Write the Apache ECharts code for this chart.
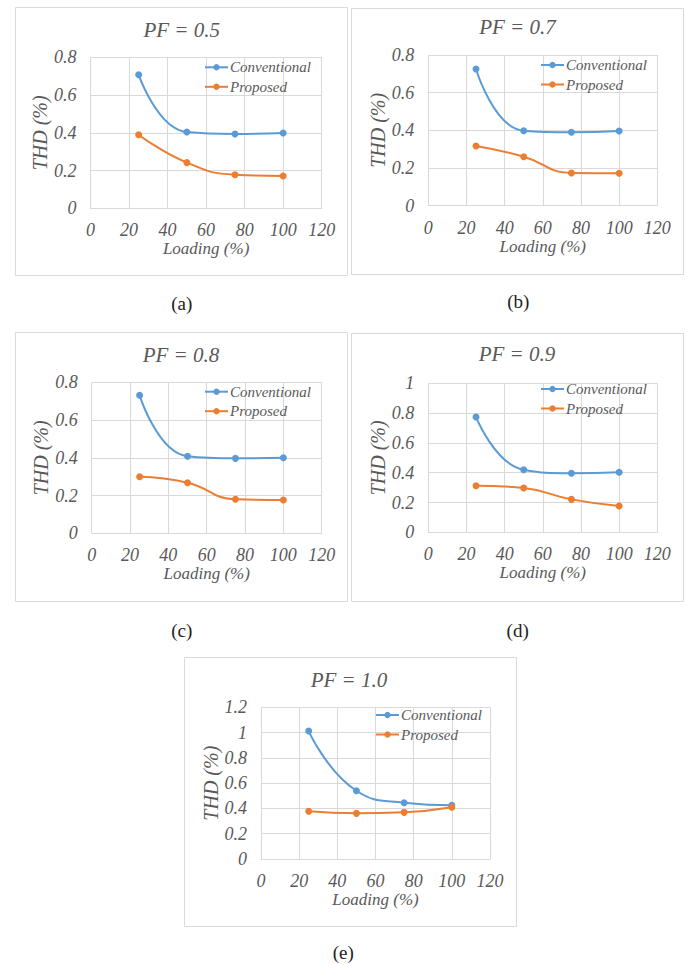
<!DOCTYPE html>
<html>
<head>
<meta charset="utf-8">
<script src="https://cdn.jsdelivr.net/npm/echarts@6/dist/echarts.min.js"></script>
<style>
html,body{margin:0;padding:0;background:#fff;}
#c{width:687px;height:965px;}
</style>
</head>
<body>
<div id="c"></div>
<script>
// ---- data ----
var loading = [25, 50, 75, 100];
var seriesNames = ['Conventional', 'Proposed'];
var panelTitles = ['PF = 0.5', 'PF = 0.7', 'PF = 0.8', 'PF = 0.9', 'PF = 1.0'];
var captions = ['(a)', '(b)', '(c)', '(d)', '(e)'];
var conv05 = [0.708, 0.404, 0.394, 0.399];
var prop05 = [0.390, 0.242, 0.178, 0.171];
var conv07 = [0.726, 0.398, 0.390, 0.397];
var prop07 = [0.317, 0.260, 0.174, 0.172];
var conv08 = [0.731, 0.408, 0.397, 0.400];
var prop08 = [0.300, 0.268, 0.180, 0.176];
var conv09 = [0.774, 0.420, 0.396, 0.403];
var prop09 = [0.313, 0.297, 0.221, 0.177];
var conv10 = [1.012, 0.540, 0.445, 0.425];
var prop10 = [0.377, 0.361, 0.369, 0.409];
var yMax = [0.8, 0.8, 0.8, 1, 1.2];
var xTicks = {min: 0, max: 120, interval: 20};
var yInterval = 0.2;

var convAll = [conv05, conv07, conv08, conv09, conv10];
var propAll = [prop05, prop07, prop08, prop09, prop10];

// ---- layout ----
var grids = [
  {left: 90.5, top: 57.3, width: 231.2, height: 151},
  {left: 428.3, top: 55, width: 229, height: 150.7},
  {left: 91.7, top: 382.3, width: 230, height: 151},
  {left: 428.3, top: 383.3, width: 229, height: 149},
  {left: 261, top: 707.3, width: 229, height: 151.7}
];
var frames = [
  [15, 7, 347, 275], [351, 8, 683, 274],
  [15, 332, 347, 601], [351, 333, 683, 601],
  [184, 657, 516, 926]
];
var titlePos = [[181.7, 30], [517.5, 27], [181, 355], [517, 354], [349, 680]];
var legendPos = [[204, 59.8], [540, 57.5], [204, 384.2], [540, 381.5], [375, 707.5]];
var captionPos = [[181.7, 303], [518.3, 301], [181.7, 630], [517.7, 630], [343.3, 952]];

var BLUE = '#5B9BD5', ORANGE = '#ED7D31', GREY = '#595959', GRID = '#d9d9d9';
var SERIF = 'Liberation Serif';

var option = {
  backgroundColor: '#ffffff',
  animation: false,
  grid: [], xAxis: [], yAxis: [], series: [], legend: [],
  graphic: {elements: []}
};

for (var i = 0; i < 5; i++) {
  option.grid.push(Object.assign({containLabel: false}, grids[i]));
  option.xAxis.push({
    type: 'value', gridIndex: i, min: xTicks.min, max: xTicks.max, interval: xTicks.interval,
    name: 'Loading (%)', nameLocation: 'middle', nameGap: 30,
    nameTextStyle: {fontFamily: SERIF, fontStyle: 'italic', fontSize: 17, color: GREY},
    axisLine: {show: true, lineStyle: {color: GRID, width: 1}},
    axisTick: {show: false},
    axisLabel: {fontFamily: SERIF, fontStyle: 'italic', fontSize: 18, color: GREY, margin: 13},
    splitLine: {show: true, lineStyle: {color: GRID, width: 1}}
  });
  option.yAxis.push({
    type: 'value', gridIndex: i, min: 0, max: yMax[i], interval: yInterval,
    name: 'THD (%)', nameLocation: 'middle', nameGap: 39,
    nameTextStyle: {fontFamily: SERIF, fontStyle: 'italic', fontSize: 20, color: GREY},
    axisLine: {show: false},
    axisTick: {show: false},
    axisLabel: {fontFamily: SERIF, fontStyle: 'italic', fontSize: 18, color: GREY, margin: 14},
    splitLine: {show: true, lineStyle: {color: GRID, width: 1}}
  });
  var datas = [convAll[i], propAll[i]];
  var colors = [BLUE, ORANGE];
  for (var s = 0; s < 2; s++) {
    option.series.push({
      type: 'line', name: seriesNames[s], xAxisIndex: i, yAxisIndex: i,
      data: loading.map(function (x, k) { return [x, datas[s][k]]; }),
      smooth: 0.5,
      symbol: 'circle', symbolSize: 7,
      lineStyle: {color: colors[s], width: 2},
      itemStyle: {color: colors[s]},
      z: 3
    });
  }
  option.legend.push({
    orient: 'vertical', left: legendPos[i][0], top: legendPos[i][1],
    data: seriesNames, itemWidth: 23, itemHeight: 8, itemGap: 4.5,
    padding: 0,
    selectedMode: false,
    textStyle: {fontFamily: SERIF, fontStyle: 'italic', fontSize: 15, color: GREY, padding: [0, 0, 0, -3]}
  });
  var f = frames[i];
  option.graphic.elements.push({
    type: 'rect', shape: {x: f[0] + 0.5, y: f[1] + 0.5, width: f[2] - f[0], height: f[3] - f[1]},
    style: {fill: 'none', stroke: GRID, lineWidth: 1}, silent: true
  });
  option.graphic.elements.push({
    type: 'text', x: titlePos[i][0], y: titlePos[i][1],
    style: {text: panelTitles[i], fontFamily: SERIF, fontStyle: 'italic', fontSize: 21,
      fill: GREY, textAlign: 'center', textVerticalAlign: 'middle'}
  });
  option.graphic.elements.push({
    type: 'text', x: captionPos[i][0], y: captionPos[i][1],
    style: {text: captions[i], fontFamily: SERIF, fontSize: 19,
      fill: '#222222', textAlign: 'center', textVerticalAlign: 'middle'}
  });
}

var chart = echarts.init(document.getElementById('c'), null, {renderer: 'svg', width: 687, height: 965});
chart.setOption(option);
</script>
</body>
</html>
